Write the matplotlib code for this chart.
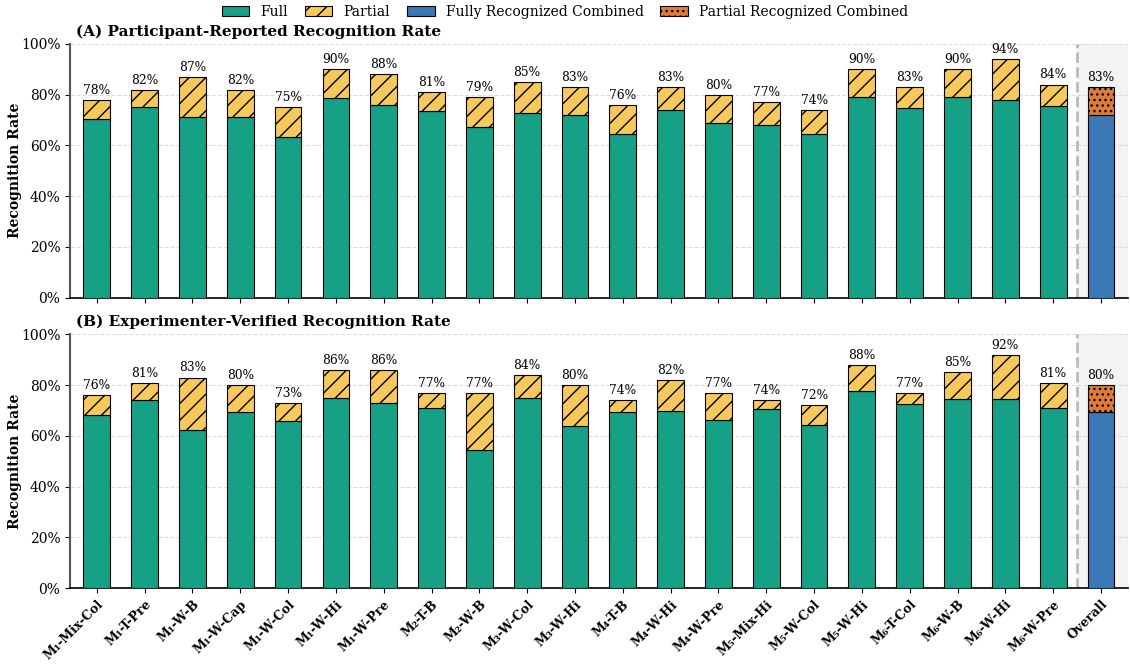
import numpy as np
import matplotlib
matplotlib.use("Agg")
import matplotlib.pyplot as plt

plt.rcParams['font.family'] = 'DejaVu Serif'
plt.rcParams['hatch.linewidth'] = 1.0

labels = ["M₁-Mix-Col", "M₁-T-Pre", "M₁-W-B", "M₁-W-Cap", "M₁-W-Col", "M₁-W-Hi",
          "M₁-W-Pre", "M₂-T-B", "M₂-W-B", "M₃-W-Col", "M₃-W-Hi", "M₄-T-B",
          "M₄-W-Hi", "M₄-W-Pre", "M₅-Mix-Hi", "M₅-W-Col", "M₅-W-Hi", "M₆-T-Col",
          "M₆-W-B", "M₆-W-Hi", "M₆-W-Pre"]

# participant reported (percent)
full_a = [70.5, 75.2, 71.3, 71.3, 63.4, 78.7, 76.0, 73.6, 67.3, 72.8, 72.0, 64.6,
          74.0, 68.9, 68.1, 64.6, 79.1, 74.8, 79.1, 78.0, 75.6]
total_a = [78, 82, 87, 82, 75, 90, 88, 81, 79, 85, 83, 76,
           83, 80, 77, 74, 90, 83, 90, 94, 84]
overall_full_a = 72.0
overall_total_a = 83

# experimenter verified (percent)
full_b = [68.4, 74.3, 62.5, 69.6, 66.0, 75.1, 73.1, 70.8, 54.5, 75.1, 64.0, 69.6,
          70.0, 66.4, 70.4, 64.4, 77.5, 72.7, 74.7, 74.7, 70.8]
total_b = [76, 81, 83, 80, 73, 86, 86, 77, 77, 84, 80, 74,
           82, 77, 74, 72, 88, 77, 85, 92, 81]
overall_full_b = 69.6
overall_total_b = 80

GREEN = '#16a085'
YELLOW = '#f7c95c'
BLUE = '#3a78b6'
ORANGE = '#e07a38'
W = 0.56

fig, axes = plt.subplots(2, 1, figsize=(11.3, 6.66), dpi=100, sharex=True)
fig.subplots_adjust(left=0.062, right=0.998, top=0.934, bottom=0.117, hspace=0.145)

panels = [(axes[0], full_a, total_a, overall_full_a, overall_total_a,
           "(A) Participant-Reported Recognition Rate"),
          (axes[1], full_b, total_b, overall_full_b, overall_total_b,
           "(B) Experimenter-Verified Recognition Rate")]

x = np.arange(len(labels))
xo = len(labels)
for ax, full, total, ofull, ototal, title in panels:
    full = np.array(full) / 100
    partial = np.array(total) / 100 - full
    ax.axvspan(xo - 0.5, xo + 0.6, color='#f3f3f3', zorder=0)
    ax.axvline(xo - 0.5, color='#bbbbbb', ls='--', lw=2, zorder=1)
    ax.bar(x, full, W, color=GREEN, edgecolor='black', lw=0.8, label='Full', zorder=3)
    ax.bar(x, partial, W, bottom=full, color=YELLOW, edgecolor='black', lw=0.8,
           hatch='//', label='Partial', zorder=3)
    ax.bar(xo, ofull / 100, W, color=BLUE, edgecolor='black', lw=0.8,
           label='Fully Recognized Combined', zorder=3)
    ax.bar(xo, (ototal - ofull) / 100, W, bottom=ofull / 100, color=ORANGE,
           edgecolor='black', lw=0.8, hatch='...', label='Partial Recognized Combined', zorder=3)
    for xi, t in zip(list(x) + [xo], list(total) + [ototal]):
        ax.text(xi, t / 100 + 0.012, f"{t:.0f}%", ha='center', va='bottom', fontsize=8.8)
    ax.set_ylim(0, 1.0)
    ax.set_yticks(np.arange(0, 1.01, 0.2))
    ax.set_yticklabels([f"{int(v*100)}%" for v in np.arange(0, 1.01, 0.2)], fontsize=10)
    ax.yaxis.grid(True, ls='--', color='#dddddd', lw=0.8)
    ax.set_axisbelow(True)
    ax.set_ylabel("Recognition Rate", fontsize=10, fontweight='bold')
    ax.yaxis.set_label_coords(-0.0455, 0.5)
    ax.set_title(title, loc='left', fontsize=11, fontweight='bold', pad=6, x=0.006)
    ax.spines['top'].set_visible(False)
    ax.spines['right'].set_visible(False)
    ax.spines['left'].set_color('#555555')
    ax.spines['left'].set_linewidth(1.5)
    ax.spines['bottom'].set_linewidth(1.2)
    ax.set_xlim(-0.56, xo + 0.56)

axes[1].set_xticks(list(x) + [xo])
axes[1].set_xticklabels(labels + ["Overall"], rotation=45, ha='right',
                        rotation_mode='anchor', fontsize=9, fontweight='bold')
axes[0].tick_params(axis='x', labelbottom=False)

h, l = axes[0].get_legend_handles_labels()
fig.legend(h, l, loc='upper center', ncol=4, frameon=False, fontsize=10,
           bbox_to_anchor=(0.5, 1.012), handlelength=2.0, columnspacing=1.2)

fig.savefig("out.png", dpi=100)
